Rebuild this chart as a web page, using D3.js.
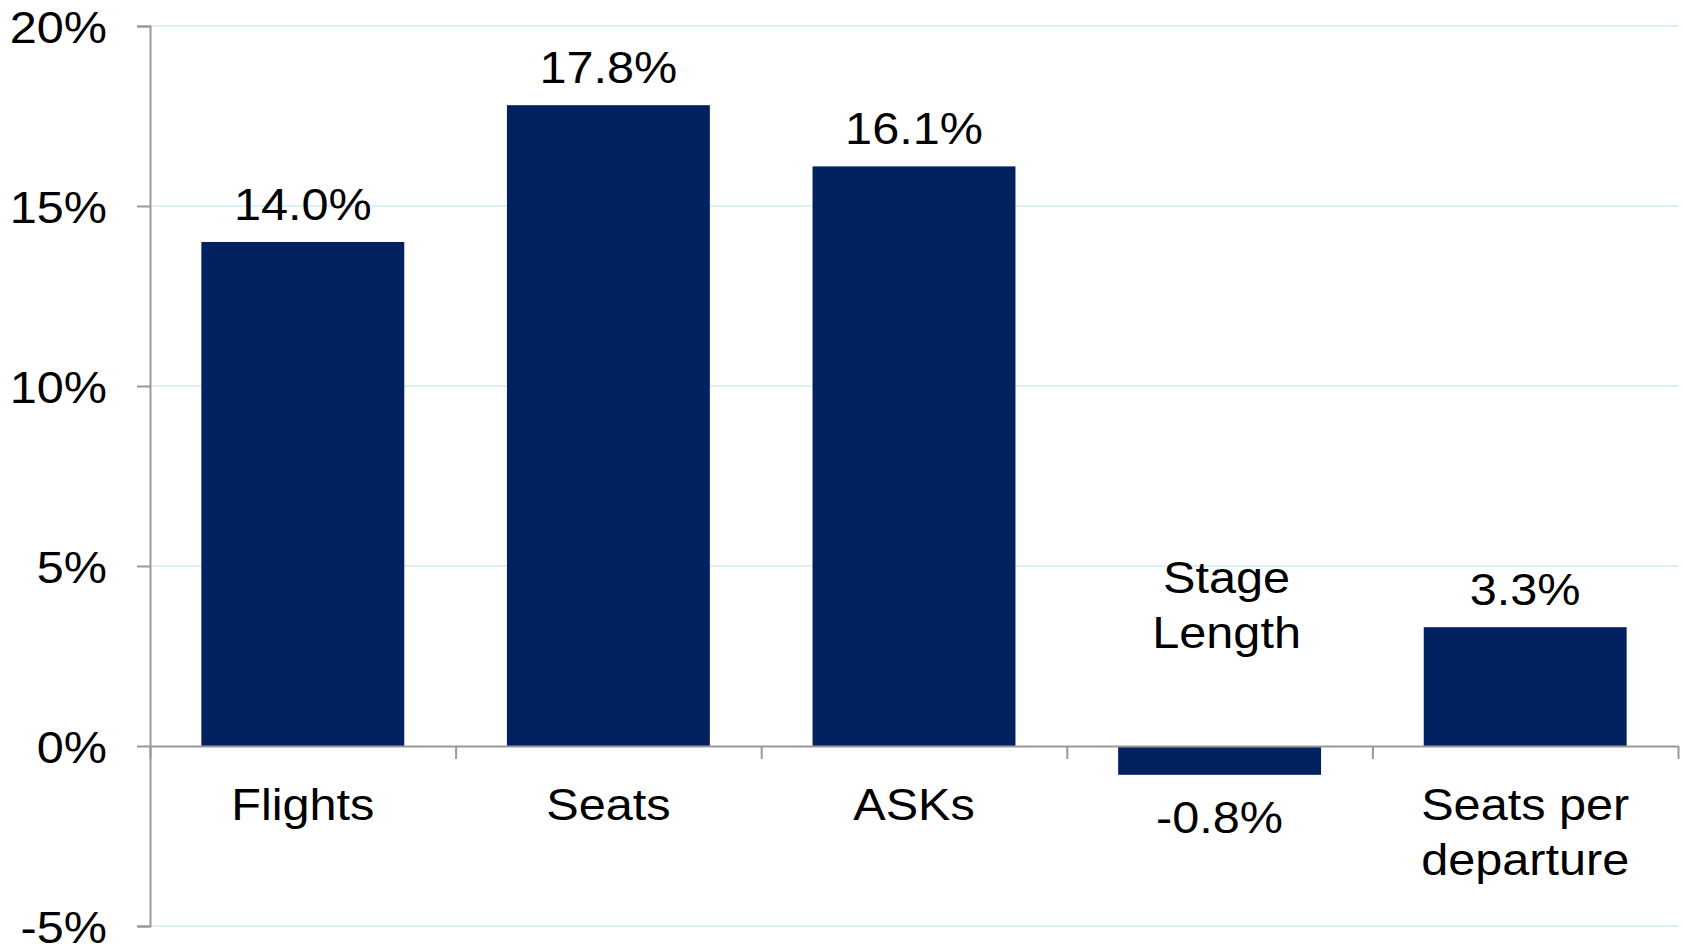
<!DOCTYPE html>
<html>
<head>
<meta charset="utf-8">
<script src="https://cdn.jsdelivr.net/npm/d3@7"></script>
<style>
  body { margin: 0; background: #fff; }
  text { font-family: "Liberation Sans", Arial, sans-serif; fill: #000; }
</style>
</head>
<body>
<script>
// chart data
var categories = ["Flights", "Seats", "ASKs", "Stage Length", "Seats per departure"];
var labelLines = [["Flights"], ["Seats"], ["ASKs"], ["Stage", "Length"], ["Seats per", "departure"]];
var values = [14.0, 17.8, 16.1, -0.8, 3.3];
var yTicks = [-5, 0, 5, 10, 15, 20];

var margin = {top: 26, right: 5, bottom: 18, left: 150},
  w = 1683 - margin.left - margin.right,
  h = 944 - margin.top - margin.bottom;

var fontSize = 45;
var stretch = 1.08; // the original text is a bit wider than Liberation Sans

var xScale = d3.scaleBand()
  .domain(categories)
  .range([0, w])
  .paddingInner(0.336)
  .paddingOuter(0.168);

// used only to put ticks between the categories
var xEdges = d3.scaleLinear().domain([0, categories.length]).range([0, w]);

var yScale = d3.scaleLinear()
  .domain([-5, 20])
  .range([h, 0]);

var svg = d3.select('body').append('svg')
  .attr('width', w + margin.left + margin.right)
  .attr('height', h + margin.top + margin.bottom)
  .append('g')
  .attr('transform', 'translate(' + margin.left + ',' + margin.top + ')');

// gridlines
svg.selectAll('line.grid')
  .data(yTicks.filter(function (d) { return d !== 0; }))
  .enter()
  .append('line')
  .attr('class', 'grid')
  .attr('x1', 0)
  .attr('x2', w)
  .attr('y1', function (d) { return yScale(d); })
  .attr('y2', function (d) { return yScale(d); })
  .attr('stroke', '#dcf0f7')
  .attr('stroke-width', 2);

// bars
svg.selectAll('rect')
  .data(values)
  .enter()
  .append('rect')
  .attr('x', function (d, i) { return xScale(categories[i]); })
  .attr('y', function (d) { return yScale(Math.max(0, d)); })
  .attr('width', xScale.bandwidth())
  .attr('height', function (d) { return Math.abs(yScale(d) - yScale(0)); })
  .attr('fill', '#022160');

// y axis
var yAxis = svg.append('g')
  .call(d3.axisLeft(yScale)
    .tickValues(yTicks)
    .tickSize(13)
    .tickPadding(30)
    .tickFormat(function (d) { return d + '%'; }));
yAxis.select('.domain').attr('stroke', '#999').attr('stroke-width', 2);
yAxis.selectAll('.tick line').attr('stroke', '#999').attr('stroke-width', 2);
yAxis.selectAll('.tick text')
  .attr('font-size', fontSize + 'px')
  .attr('font-family', '"Liberation Sans", Arial, sans-serif')
  .attr('fill', '#000')
  .attr('dy', '0.36em')
  .attr('x', -43 / stretch)
  .attr('transform', 'scale(' + stretch + ',1)');

// x axis at zero
var xAxis = svg.append('g')
  .attr('transform', 'translate(0,' + yScale(0) + ')')
  .call(d3.axisBottom(xEdges)
    .tickValues(d3.range(categories.length + 1))
    .tickSize(13)
    .tickSizeOuter(0)
    .tickFormat(''));
xAxis.select('.domain').attr('stroke', '#999').attr('stroke-width', 2);
xAxis.selectAll('.tick line').attr('stroke', '#999').attr('stroke-width', 2);

function centre(i) {
  return xScale(categories[i]) + xScale.bandwidth() / 2;
}

// value labels
svg.selectAll('g.value')
  .data(values)
  .enter()
  .append('g')
  .attr('class', 'value')
  .attr('transform', function (d, i) {
    var y = d >= 0 ? yScale(d) - 22 : yScale(d) + 58;
    return 'translate(' + centre(i) + ',' + y + ') scale(' + stretch + ',1)';
  })
  .append('text')
  .attr('text-anchor', 'middle')
  .attr('font-size', fontSize + 'px')
  .text(function (d) { return d.toFixed(1) + '%'; });

// category labels (negative bar gets its label above the axis)
var lineGap = 55;
var catLabels = svg.selectAll('g.cat')
  .data(labelLines)
  .enter()
  .append('g')
  .attr('class', 'cat')
  .attr('transform', function (d, i) {
    var x = centre(i), y = yScale(0) + 74;
    if (values[i] < 0) {
      x += 7;
      y = yScale(0) - 98 - (d.length - 1) * lineGap;
    }
    return 'translate(' + x + ',' + y + ') scale(' + stretch + ',1)';
  })
  .append('text')
  .attr('text-anchor', 'middle')
  .attr('font-size', fontSize + 'px');

catLabels.selectAll('tspan')
  .data(function (d) { return d; })
  .enter()
  .append('tspan')
  .attr('x', 0)
  .attr('dy', function (d, j) { return j === 0 ? 0 : lineGap; })
  .text(function (d) { return d; });
</script>
</body>
</html>
